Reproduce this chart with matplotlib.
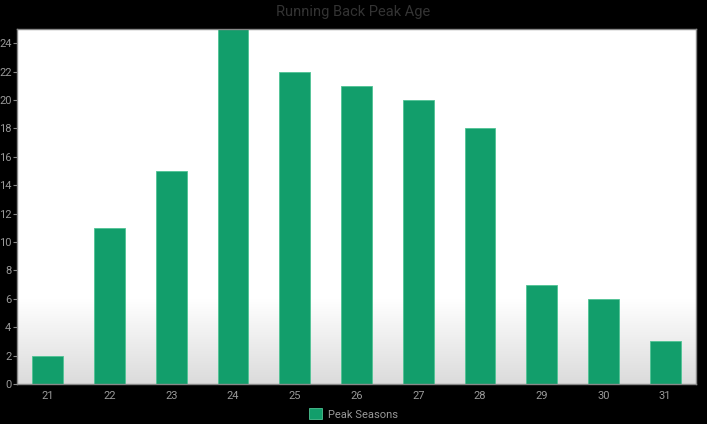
import matplotlib
matplotlib.use("Agg")
import matplotlib.pyplot as plt
import numpy as np

ages = ["21", "22", "23", "24", "25", "26", "27", "28", "29", "30", "31"]
peak_seasons = [2, 11, 15, 25, 22, 21, 20, 18, 7, 6, 3]
y_ticks = list(range(0, 25, 2))

plt.rcParams['font.family'] = ['Roboto', 'DejaVu Sans']
fig = plt.figure(figsize=(7.07, 4.24), dpi=100, facecolor='black')
W, H = 707, 424
left, right, top, bottom = 17, 696, 29, 384
ax = fig.add_axes([left / W, 1 - bottom / H, (right - left) / W, (bottom - top) / H])
ax.set_facecolor('white')

# gradient background at bottom
n = 256
grad = np.ones((n, 1, 3))
ys = np.linspace(0, 1, n)  # 0 bottom -> 1 top
frac_start = (bottom - 300) / (bottom - top)
g = np.where(ys < frac_start, 0.86 + (1 - 0.86) * (ys / frac_start), 1.0)
grad[:, 0, :] = g[:, None]
ax.imshow(grad, extent=[0, 1, 0, 1], transform=ax.transAxes, origin='lower',
          aspect='auto', zorder=0, interpolation='bilinear')

x = np.arange(len(ages))
ax.bar(x, peak_seasons, width=0.5, color='#129e6b', edgecolor='#4fc394', linewidth=0.6,
       zorder=2, label='Peak Seasons')
ax.set_xlim(-0.5, len(ages) - 0.5)
ax.set_ylim(0, 25)
ax.set_xticks(x)
ax.set_xticklabels(ages)
ax.set_yticks(y_ticks)
ax.tick_params(colors='#888888', labelcolor='#999999', labelsize=8, length=3, width=0.8)
ax.tick_params(axis='x', length=0, pad=5)
ax.tick_params(axis='y', pad=1)
for s in ax.spines.values():
    s.set_color('#888888')
    s.set_linewidth(1)

fig.text(0.5, 1 - 12 / H, 'Running Back Peak Age', ha='center', va='center',
         color='#333333', fontsize=10.5)
leg = fig.legend(loc='center', bbox_to_anchor=(0.5, 1 - 414 / H), frameon=False,
                 fontsize=8, handlelength=1.15, handleheight=1.15, handletextpad=0.6)
for t in leg.get_texts():
    t.set_color('#999999')

fig.savefig('out.png', dpi=100, facecolor='black')
